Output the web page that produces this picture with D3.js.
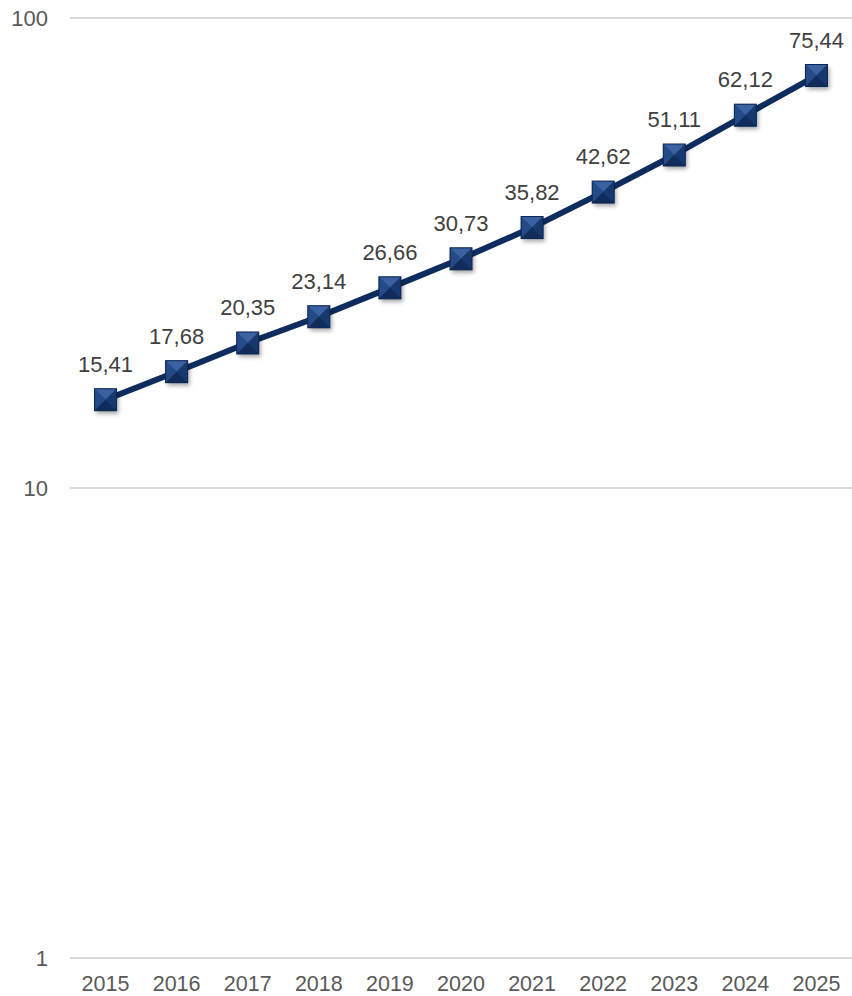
<!DOCTYPE html>
<html><head><meta charset="utf-8">
<script src="https://cdn.jsdelivr.net/npm/d3@7"></script>
<style>body{margin:0;background:#fff}text{font-family:"Liberation Sans",Arial,sans-serif}</style>
</head><body>
<svg id="c" width="852" height="996"></svg>
<script>
const years = ["2015","2016","2017","2018","2019","2020","2021","2022","2023","2024","2025"];
const values = [15.41,17.68,20.35,23.14,26.66,30.73,35.82,42.62,51.11,62.12,75.44];
const yTicks = [1,10,100];

const svg = d3.select("#c");
const x = d3.scaleBand().domain(years).range([70,852]);
const y = d3.scaleLog().domain([1,100]).range([958,18]);

const defs = svg.append("defs");
const f = defs.append("filter").attr("id","sh").attr("x","-50%").attr("y","-50%").attr("width","200%").attr("height","200%");
f.append("feDropShadow").attr("dx",2).attr("dy",3).attr("stdDeviation",2).attr("flood-color","#000").attr("flood-opacity",0.35);

svg.append("g").selectAll("line").data(yTicks).join("line")
  .attr("x1",70).attr("x2",852).attr("y1",d=>y(d)).attr("y2",d=>y(d))
  .attr("stroke","#d9d9d9").attr("stroke-width",2);

svg.append("g").selectAll("text").data(yTicks).join("text")
  .attr("x",48).attr("y",d=>y(d)+8).attr("text-anchor","end")
  .attr("font-size",22).attr("fill","#595959").text(d=>d);

svg.append("g").selectAll("text").data(years).join("text")
  .attr("x",d=>x(d)+x.bandwidth()/2).attr("y",991).attr("text-anchor","middle")
  .attr("font-size",21.5).attr("fill","#595959").text(d=>d);

const cx = (d,i)=>x(years[i])+x.bandwidth()/2;
const line = d3.line().x((d,i)=>cx(d,i)).y(d=>y(d));
svg.append("path").datum(values).attr("d",line).attr("fill","none")
  .attr("stroke","#0e2d5e").attr("stroke-width",6).attr("stroke-linejoin","round");

const s = 11;
const mk = svg.append("g").selectAll("g").data(values).join("g")
  .attr("transform",(d,i)=>`translate(${cx(d,i)},${y(d)})`);
mk.append("rect").attr("x",-s).attr("y",-s).attr("width",2*s).attr("height",2*s)
  .attr("fill","#1b3f78").attr("filter","url(#sh)");
const tri = [
  {p:`M${-s},${-s}L${s},${-s}L0,0Z`, c:"#3a62a2"},
  {p:`M${-s},${-s}L${-s},${s}L0,0Z`, c:"#244a88"},
  {p:`M${s},${-s}L${s},${s}L0,0Z`, c:"#163a70"},
  {p:`M${-s},${s}L${s},${s}L0,0Z`, c:"#0f2c5a"}
];
mk.selectAll("path").data(tri).join("path").attr("d",t=>t.p).attr("fill",t=>t.c);
mk.append("rect").attr("x",-s).attr("y",-s).attr("width",2*s).attr("height",2*s)
  .attr("fill","none").attr("stroke","#0c2550").attr("stroke-width",1);

svg.append("g").selectAll("text").data(values).join("text")
  .attr("x",(d,i)=>cx(d,i)).attr("y",d=>y(d)-28).attr("text-anchor","middle")
  .attr("font-size",22).attr("fill","#404040").text(d=>d.toFixed(2).replace(".",","));
</script>
</body></html>
